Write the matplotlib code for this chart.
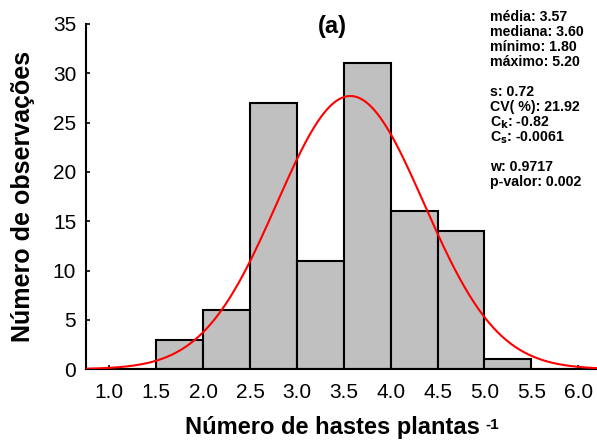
import numpy as np
import matplotlib
matplotlib.use("Agg")
import matplotlib.pyplot as plt

plt.rcParams['font.family'] = ['Liberation Sans', 'DejaVu Sans']

# histogram
bin_edges = [1.0, 1.5, 2.0, 2.5, 3.0, 3.5, 4.0, 4.5, 5.0, 5.5, 6.0]
counts = [0, 3, 6, 27, 11, 31, 16, 14, 1, 0]

# fitted normal curve parameters
fit_mean = 3.57
fit_sd = 0.785

stats_lines = [
    'média: 3.57', 'mediana: 3.60', 'mínimo: 1.80', 'máximo: 5.20', '',
    's: 0.72', 'CV( %): 21.92', r'C$_\mathbf{k}$: -0.82', r'C$_\mathbf{s}$: -0.0061', '',
    'w: 0.9717', 'p-valor: 0.002',
]
x_ticks = [1.0, 1.5, 2.0, 2.5, 3.0, 3.5, 4.0, 4.5, 5.0, 5.5, 6.0]
y_ticks = [0, 5, 10, 15, 20, 25, 30, 35]

fig = plt.figure(figsize=(5.97, 4.41), dpi=100)
ax = fig.add_axes([0.144, 0.163, 0.856, 0.7826])

widths = np.diff(bin_edges)
ax.bar(bin_edges[:-1], counts, width=widths, align='edge',
       color='#c0c0c0', edgecolor='black', linewidth=1.5, zorder=2)

# normal curve scaled to counts
n = sum(counts)
xs = np.linspace(0.75, 6.2, 400)
ys = n * 0.5 / (fit_sd * np.sqrt(2 * np.pi)) * np.exp(-0.5 * ((xs - fit_mean) / fit_sd) ** 2)
ax.plot(xs, ys, color='red', lw=1.5, zorder=3)

ax.set_xlim(0.75, 6.2)
ax.set_ylim(0, 35)
ax.set_xticks(x_ticks)
ax.set_xticklabels(['%.1f' % t for t in x_ticks])
ax.set_yticks(y_ticks)
ax.tick_params(axis='x', direction='in', length=3, width=1.2, labelsize=15, pad=10)
ax.tick_params(axis='y', direction='in', length=3, width=1.2, labelsize=15, pad=7)
for s in ['top', 'right']:
    ax.spines[s].set_visible(False)
for s in ['left', 'bottom']:
    ax.spines[s].set_linewidth(1.5)

ax.set_ylabel('Número de observações', fontsize=18, fontweight='bold')
ax.yaxis.set_label_coords(-0.100, 0.50)
ax.set_xlabel('Número de hastes plantas', fontsize=17, fontweight='bold')
ax.xaxis.set_label_coords(0.483, -0.136)

# superscript "-1" right after the x label
fig.canvas.draw()
bb = ax.xaxis.label.get_window_extent().transformed(fig.transFigure.inverted())
fig.text(bb.x1 + 0.008, bb.y1 - 0.005, '-1', fontsize=11, fontweight='bold', va='top')

fig.text(0.556, 0.94, '(a)', fontsize=17, fontweight='bold', ha='center', va='center')

y0 = 0.978
for i, line in enumerate(stats_lines):
    fig.text(0.821, y0 - i * 0.034, line, fontsize=10.2, fontweight='bold', va='top')

fig.savefig('out.png', dpi=100)
